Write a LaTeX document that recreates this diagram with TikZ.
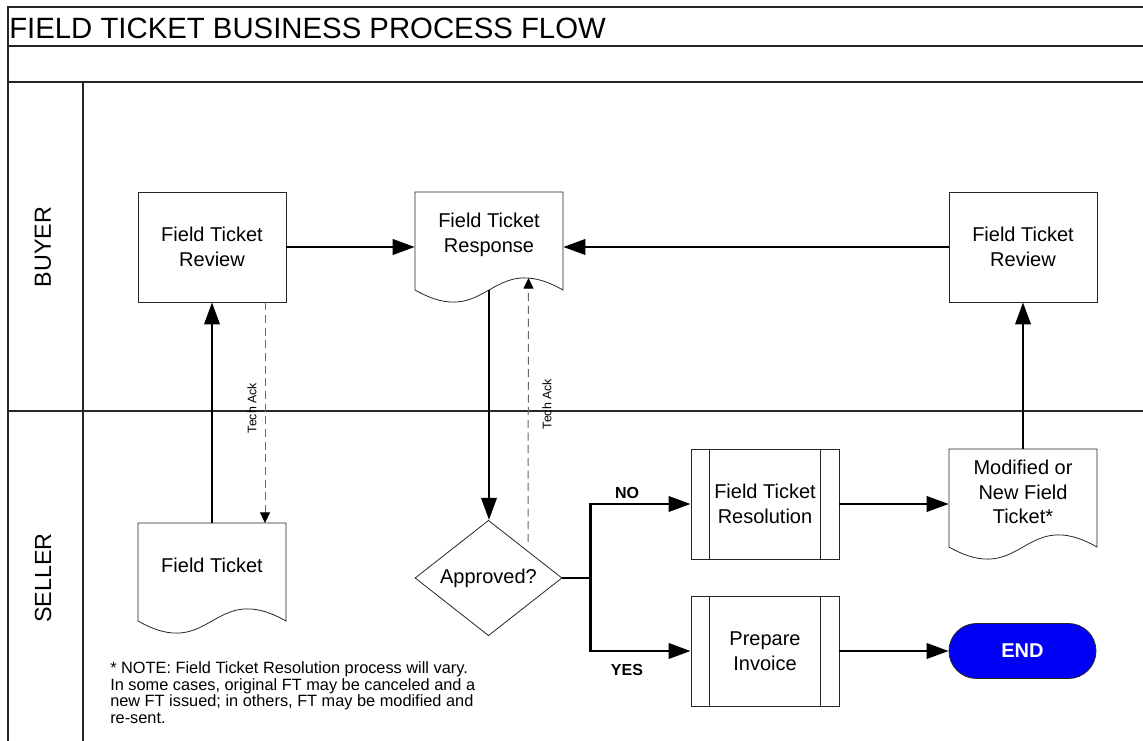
\documentclass[tikz,border=0pt]{standalone}
\usepackage{fontspec}
\setmainfont{Liberation Sans}
\usetikzlibrary{arrows.meta,shapes.geometric,calc}
\definecolor{endblue}{RGB}{0,0,245}
\newcommand\docoutline[3]{%
  \coordinate (#1-top) at ($(#1.center)+(0,-#2)$);
  \coordinate (#1-bot) at ($(#1.center)+(0,#3)$);
  \draw[shapeline] ($(#1.center)+(-74,-#2)$) -- ($(#1.center)+(-74,#3)$)
    .. controls ($(#1.center)+(0,#3+42)$) and ($(#1.center)+(0,#3-42)$) .. ($(#1.center)+(74,#3)$)
    -- ($(#1.center)+(74,-#2)$) -- cycle;}
\begin{document}
\begin{tikzpicture}[x=0.75pt,y=-0.75pt,
  frameline/.style={line width=0.9pt, draw=black!85},
  shapeline/.style={draw=black!85, line width=0.6pt},
  box/.style={draw=black!85, line width=0.6pt, rectangle, minimum width=111pt, minimum height=82.5pt, inner sep=1pt, align=center, font=\fontsize{15}{18.5}\selectfont},
  doc/.style={rectangle, minimum width=111pt, inner sep=0pt, align=center, font=\fontsize{15}{18.5}\selectfont},
  decision/.style={diamond, draw=black!85, line width=0.6pt, minimum width=110.25pt, minimum height=82.5pt, inner sep=0pt, font=\fontsize{15}{18.5}\selectfont},
  terminal/.style={rectangle, rounded corners=20.6pt, draw=black!85, line width=0.6pt, fill=endblue, text=white, minimum width=110.25pt, minimum height=41.25pt, font=\bfseries\fontsize{15}{18}\selectfont},
  flow/.style={line width=2pt, -{Triangle[length=16.5pt,width=11.5pt]}},
  flowline/.style={line width=2pt},
  ack/.style={draw=black!60, line width=0.75pt, dash pattern=on 6pt off 3.5pt, -{Triangle[length=8pt,width=7.5pt,color=black]}},
  acklabel/.style={rotate=90, inner sep=0pt, font=\fontsize{9.3}{10}\selectfont},
  lane/.style={rotate=90, inner sep=0pt, font=\fontsize{17.5}{20}\selectfont},
  branch/.style={inner sep=0pt, font=\bfseries\fontsize{12}{14}\selectfont}
]
\useasboundingbox (0,0) rectangle (1143,741);
% frame and lanes
\draw[frameline] (8,741) -- (8,7) -- (1143,7);
\draw[frameline] (8,46) -- (1143,46);
\draw[frameline] (8,82) -- (1143,82);
\draw[frameline] (83,82) -- (83,741);
\draw[frameline] (8,411) -- (1143,411);
\node[anchor=west, inner sep=0pt, font=\fontsize{22}{26}\selectfont] (title) at (9,28) {FIELD TICKET BUSINESS PROCESS FLOW};
\node[lane] (buyer) at (43,247) {BUYER};
\node[lane] (seller) at (43,578) {SELLER};
% nodes
\node[box] (rev1) at (212,247) {Field Ticket\\Review};
\node[box] (rev2) at (1023,247) {Field Ticket\\Review};
\node[doc] (resp) at (489,235) {Field Ticket\\Response};
\node[doc] (ft) at (212,565) {Field Ticket};
\node[doc] (mod) at (1023,492) {Modified or\\New Field\\Ticket*};
\node[decision] (appr) at (488.5,578) {Approved?};
\node[box] (res) at (765,504) {Field Ticket\\Resolution};
\node[box] (inv) at (765,651) {Prepare\\Invoice};
\node[terminal] (end) at (1022.5,651) {END};
\docoutline{resp}{43}{55}
\docoutline{ft}{42}{56}
\docoutline{mod}{43}{55}
\foreach \n in {res,inv}{
  \draw[shapeline] ($(\n.north west)+(19,0)$) -- ($(\n.south west)+(19,0)$);
  \draw[shapeline] ($(\n.north east)+(-19,0)$) -- ($(\n.south east)+(-19,0)$);
}
% connectors
\draw[flow] (rev1.east) -- (rev1.east -| resp.west);
\draw[flow] (rev2.west) -- (rev2.west -| resp.east);
\draw[flow] (ft-top) -- (rev1.south);
\coordinate (ack1s) at ($(rev1.south)+(53,0)$);
\draw[ack] (ack1s) -- (ack1s |- ft-top);
\node[acklabel] (ack1l) at (252,408) {Tech Ack};
\draw[flow] (resp-bot) -- (resp-bot |- appr.north);
\coordinate (ack2s) at ($(appr.north)+(39.5,22)$);
\coordinate (ack2e) at ($(resp.center)+(39.5,43)$);
\draw[ack] (ack2s) -- (ack2e);
\node[acklabel] (ack2l) at (547,404) {Tech Ack};
\coordinate (split) at ($(appr.east)+(28,0)$);
\draw[flowline] (appr.east) -- (split);
\draw[flow] (split) |- (res.west);
\draw[flow] (split) |- (inv.west);
\node[branch] (no) at (627,493) {NO};
\node[branch] (yes) at (627,670) {YES};
\draw[flow] (res.east) -- (res.east -| mod.west);
\draw[flow] (inv.east) -- (end.west);
\draw[flow] (mod-top) -- (rev2.south);
% note
\node[anchor=north west, align=left, inner sep=0pt, font=\fontsize{12.25}{12.7}\selectfont] (note) at (110,661) {* NOTE: Field Ticket Resolution process will vary.\\In some cases, original FT may be canceled and a\\new FT issued; in others, FT may be modified and\\re-sent.};
\end{tikzpicture}
\end{document}
